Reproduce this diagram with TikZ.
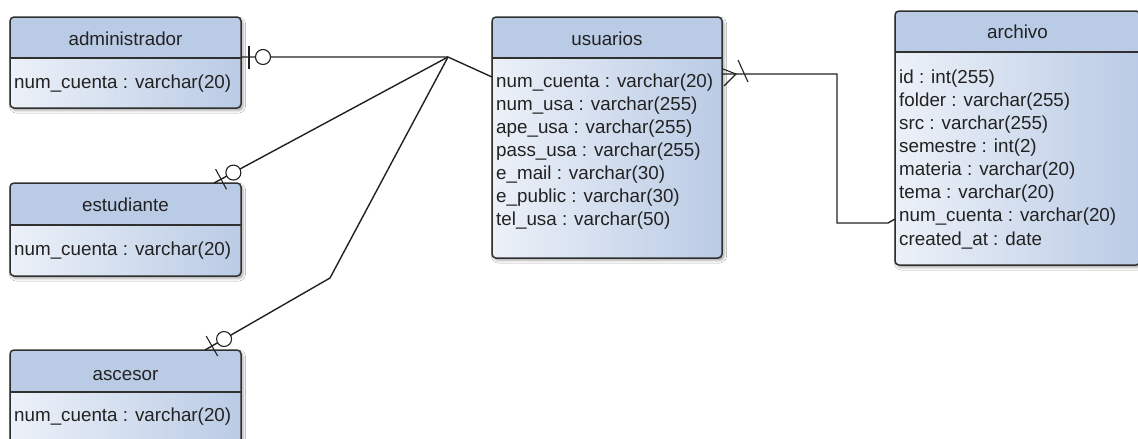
\documentclass[tikz,border=0pt]{standalone}
\usepackage{fontspec}
\setmainfont{Liberation Sans}
\usetikzlibrary{calc,shadows.blur}

\definecolor{hdr}{RGB}{186,203,229}
\definecolor{bodyL}{RGB}{236,241,248}
\definecolor{bodyR}{RGB}{186,203,229}
\definecolor{edge}{RGB}{48,48,48}
\definecolor{ink}{RGB}{34,34,34}

\tikzset{
  erfill/.style={rounded corners=4pt, left color=bodyL, right color=bodyR,
    inner sep=0pt, outer sep=0pt,
    blur shadow={shadow xshift=2pt, shadow yshift=-2.5pt,
                 shadow blur radius=2.5pt, shadow opacity=35}},
  ertitle/.style={anchor=base, font=\fontsize{18.8}{20}\selectfont, text=ink, inner sep=0pt},
  erfield/.style={anchor=base west, font=\fontsize{18.8}{20}\selectfont, text=ink, inner sep=0pt},
  link/.style={draw=ink, line width=1.4pt},
  endmark/.style={draw=ink, line width=1.1pt},
}

% table box: name, centre, width, height, header height
\newcommand\erbox[5]{%
  \node[erfill, minimum width=#3pt, minimum height=#4pt] (#1) at #2 {};
  \begin{scope}
    \clip (#1.north west) rectangle ($(#1.north east)+(0,#5)$);
    \fill[hdr, rounded corners=4pt] (#1.north west) rectangle (#1.south east);
  \end{scope}
  \draw[edge, line width=1.3pt] ($(#1.north west)+(0,#5)$) -- ($(#1.north east)+(0,#5)$);
  \draw[edge, line width=1.5pt, rounded corners=4pt] (#1.north west) rectangle (#1.south east);
}

% "zero or one" end: bar and open circle near end #1, line heading to #2
\newcommand\zeroone[2]{%
  \path ($(#1)!8pt!(#2)$) coordinate (zo-bar);
  \draw[endmark] ($(zo-bar)!11.5pt!90:(#2)$) -- ($(zo-bar)!11.5pt!-90:(#2)$);
  \draw[endmark, fill=white] ($(#1)!22pt!(#2)$) circle (7.5pt);
}

\begin{document}
\begin{tikzpicture}[x=1pt, y=-1pt]
  \useasboundingbox (0,0) rectangle (1138,439);
  \clip (0,0) rectangle (1138,439);
  \fill[white] (0,0) rectangle (1138,439);

  % tables
  \erbox{admin}{(125.5,62.5)}{231}{91}{41}
  \erbox{est}{(125.5,229.5)}{231}{93}{42}
  \erbox{asc}{(125.5,398)}{231}{96}{42}
  \erbox{usu}{(607,137.5)}{230}{241}{41}
  \erbox{arc}{(1017.5,138)}{245}{254}{41}

  % titles and fields
  \node[ertitle] (admin-t) at (125.5,45) {administrador};
  \node[erfield] (admin-f1) at (14,88) {num\_cuenta : varchar(20)};

  \node[ertitle] (est-t) at (125.5,211.5) {estudiante};
  \node[erfield] (est-f1) at (14,255) {num\_cuenta : varchar(20)};

  \node[ertitle] (asc-t) at (125.5,380) {ascesor};
  \node[erfield] (asc-f1) at (14,421.5) {num\_cuenta : varchar(20)};

  \node[ertitle] (usu-t) at (607,45) {usuarios};
  \node[erfield] (usu-f1) at (496,87)    {num\_cuenta : varchar(20)};
  \node[erfield] (usu-f2) at (496,110.1) {num\_usa : varchar(255)};
  \node[erfield] (usu-f3) at (496,133.2) {ape\_usa : varchar(255)};
  \node[erfield] (usu-f4) at (496,156.3) {pass\_usa : varchar(255)};
  \node[erfield] (usu-f5) at (496,179.4) {e\_mail : varchar(30)};
  \node[erfield] (usu-f6) at (496,202.5) {e\_public : varchar(30)};
  \node[erfield] (usu-f7) at (496,225.6) {tel\_usa : varchar(50)};

  \node[ertitle] (arc-t) at (1017.5,38) {archivo};
  \node[erfield] (arc-f1) at (899,83)    {id : int(255)};
  \node[erfield] (arc-f2) at (899,106.1) {folder : varchar(255)};
  \node[erfield] (arc-f3) at (899,129.3) {src : varchar(255)};
  \node[erfield] (arc-f4) at (899,152.4) {semestre : int(2)};
  \node[erfield] (arc-f5) at (899,175.6) {materia : varchar(20)};
  \node[erfield] (arc-f6) at (899,198.7) {tema : varchar(20)};
  \node[erfield] (arc-f7) at (899,221.9) {num\_cuenta : varchar(20)};
  \node[erfield] (arc-f8) at (899,245)   {created\_at : date};

  % connector points
  \coordinate (hub)  at (448,57);
  \coordinate (bend) at (330,278);
  \coordinate (a1) at (admin.east |- hub);
  \coordinate (e1) at ($(est.north east)+(-27,0)$);
  \coordinate (s1) at ($(asc.north east)+(-36,0)$);
  \coordinate (u1) at ($(usu.north west)+(0,60)$);
  \coordinate (u2) at ($(usu.north east)+(0,57)$);
  \coordinate (r1) at ($(arc.north west)+(0,208)$);

  % connectors
  \draw[link] (a1) -- (hub) -- (u1);
  \draw[link] (e1) -- (hub);
  \draw[link] (s1) -- (bend) -- (hub);
  \draw[link] (u2) -- ++(115,0) |- ($(r1)+(-7,4)$) -- (r1);

  % end markers
  \zeroone{a1}{hub}
  \zeroone{e1}{hub}
  \zeroone{s1}{bend}
  \draw[endmark] ($(u2)+(1,-5)$) -- ($(u2)+(14,0)$) -- ($(u2)+(2,12)$);
  \draw[endmark] ($(u2)+(16,-14)$) -- ($(u2)+(26,8)$);
\end{tikzpicture}
\end{document}
